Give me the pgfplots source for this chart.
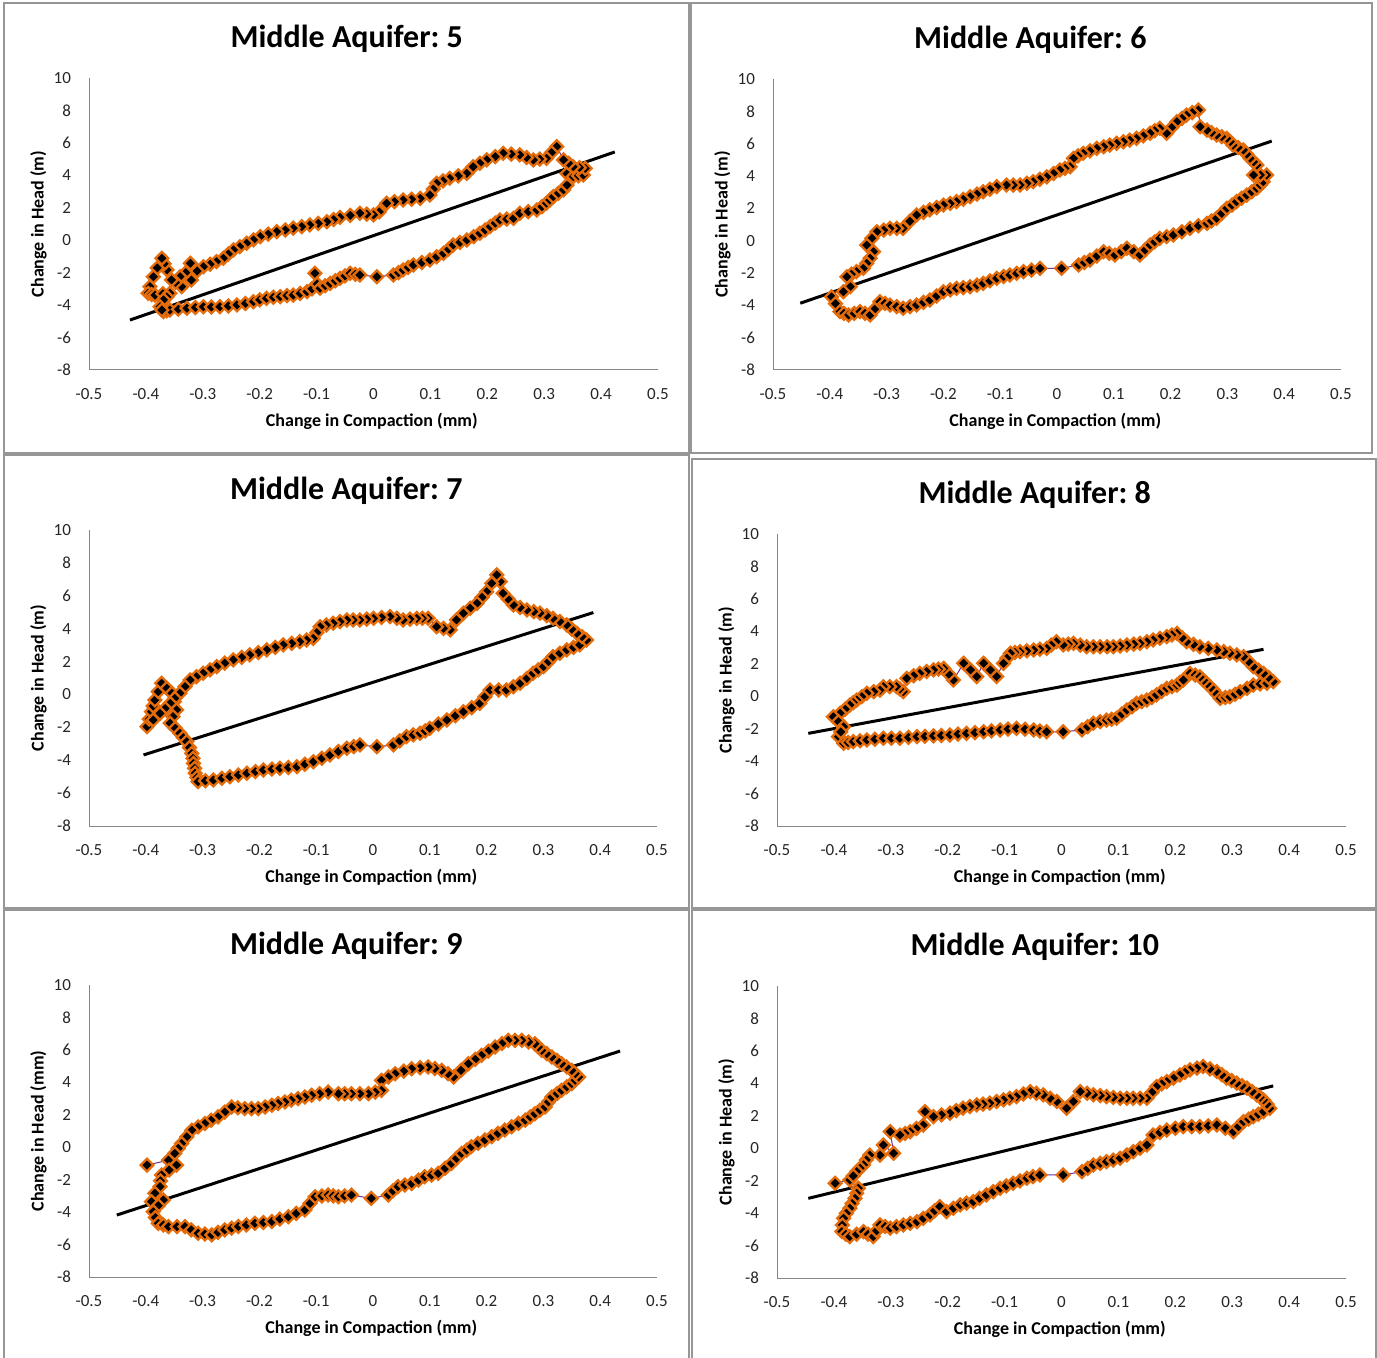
\documentclass[border=0pt]{standalone}
\usepackage{pgfplots}
\pgfplotsset{compat=1.18}
\usepackage{fontspec}
\setmainfont{Carlito}
\frenchspacing
\definecolor{mkorange}{HTML}{E46C0A}
\definecolor{linkpurple}{HTML}{7030A0}
\definecolor{framegray}{HTML}{969696}
\definecolor{axisgray}{HTML}{868686}
\pgfplotsset{
  aquifer/.style={
    scale only axis, width=284.5pt, height=146pt,
    anchor=south west,
    xmin=-0.5, xmax=0.5, ymin=-8, ymax=10,
    axis x line=bottom, axis y line=left,
    axis line style={-, draw=axisgray, line width=0.5pt},
    major tick length=0pt,
    xtick={-0.5,-0.4,-0.3,-0.2,-0.1,0,0.1,0.2,0.3,0.4,0.5},
    xticklabels={-0.5,-0.4,-0.3,-0.2,-0.1,0,0.1,0.2,0.3,0.4,0.5},
    ytick={-8,-6,-4,-2,0,2,4,6,8,10},
    yticklabels={-8,-6,-4,-2,0,2,4,6,8,10},
    tick label style={font=\fontsize{8.5}{10}\selectfont, text=black!85},
    xticklabel style={yshift=-5.5pt},
    yticklabel style={xshift=-5.5pt},
    title style={at={(axis description cs:0.453,1.14)}, anchor=center, yshift=-7pt, font=\fontsize{16}{19}\selectfont\bfseries},
    xlabel style={at={(axis description cs:0.497,-0.175)}, anchor=center, font=\fontsize{9}{11}\selectfont\bfseries},
    ylabel style={at={(axis description cs:-0.089,0.5)}, anchor=center, font=\fontsize{9}{11}\selectfont\bfseries},
    xlabel={Change in Compaction (mm)},
    ylabel={Change in Head (m)},
    clip=false,
  },
  loop/.style={linkpurple, line width=0.5pt, mark=square*, mark size=2.25pt,
    mark options={rotate=45, fill=black, draw=mkorange, line width=1.15pt, solid}},
  trend/.style={black, line width=1.5pt, no marks},
}
\begin{document}
\begin{tikzpicture}[x=0.5pt,y=-0.5pt]
\path[use as bounding box] (0,0) rectangle (1377,1358);
\fill[white] (0,0) rectangle (1377,1358);
% panel frames
\draw[framegray, line width=1pt] (4,3) rectangle (689,453);
\draw[framegray, line width=1pt] (691,3) rectangle (1372,453);
\draw[framegray, line width=1pt] (4,455) rectangle (689,908);
\draw[framegray, line width=1pt] (692,459) rectangle (1376,908);
\draw[framegray, line width=1pt] (4,910) rectangle (689,1362);
\draw[framegray, line width=1pt] (692,910) rectangle (1376,1362);
\coordinate (o1) at (89,370);
\coordinate (o2) at (773,370);
\coordinate (o3) at (89,826);
\coordinate (o4) at (777,826);
\coordinate (o5) at (89,1277);
\coordinate (o6) at (777,1278);

% ---- Middle Aquifer 5
\begin{axis}[aquifer, at={(o1)}, title={Middle Aquifer: 5}]
\addplot[loop] coordinates {
(-0.369,-4.40) (-0.363,-4.35) (-0.358,-4.30) (-0.343,-4.25) (-0.328,-4.20) (-0.313,-4.15)
(-0.299,-4.10) (-0.285,-4.12) (-0.270,-4.10) (-0.255,-4.05) (-0.240,-3.99) (-0.225,-3.90)
(-0.211,-3.79) (-0.200,-3.68) (-0.188,-3.58) (-0.176,-3.52) (-0.164,-3.48) (-0.152,-3.42)
(-0.141,-3.38) (-0.129,-3.28) (-0.117,-3.17) (-0.108,-3.00) (-0.103,-2.04) (-0.099,-2.70)
(-0.094,-2.96) (-0.085,-2.80) (-0.076,-2.66) (-0.067,-2.50) (-0.059,-2.35) (-0.050,-2.20)
(-0.041,-2.04) (-0.032,-2.10) (-0.024,-2.14) (0.006,-2.25) (0.035,-2.14) (0.044,-2.00)
(0.052,-1.83) (0.061,-1.68) (0.070,-1.53) (0.085,-1.38) (0.099,-1.22) (0.111,-1.02)
(0.123,-0.81) (0.132,-0.55) (0.140,-0.29) (0.152,-0.14) (0.164,0.01) (0.176,0.22)
(0.187,0.43) (0.196,0.63) (0.205,0.84) (0.214,1.05) (0.222,1.25) (0.234,1.30) (0.246,1.35)
(0.257,1.66) (0.272,1.76) (0.287,1.86) (0.296,2.07) (0.304,2.28) (0.310,2.48) (0.316,2.69)
(0.325,2.90) (0.334,3.10) (0.340,3.40)
(0.340,4.10) (0.351,3.92) (0.360,3.97) (0.369,4.02) (0.372,4.43) (0.362,4.48) (0.351,4.53)
(0.343,4.74) (0.334,4.95) (0.322,5.77) (0.313,5.40) (0.304,5.05) (0.292,5.00) (0.281,4.95)
(0.269,5.10) (0.257,5.26) (0.242,5.31) (0.228,5.36) (0.214,5.15) (0.199,4.95) (0.187,4.74)
(0.175,4.53) (0.164,4.12) (0.149,3.97) (0.134,3.82) (0.122,3.66) (0.111,3.51) (0.105,3.15)
(0.099,2.79) (0.082,2.58) (0.067,2.53) (0.052,2.48) (0.037,2.38) (0.023,2.28) (0.010,1.75)
(0.000,1.56) (-0.012,1.61) (-0.024,1.66) (-0.041,1.53) (-0.059,1.41) (-0.070,1.28)
(-0.082,1.14) (-0.097,1.04) (-0.112,0.94) (-0.126,0.84) (-0.141,0.74) (-0.155,0.63)
(-0.170,0.53) (-0.185,0.38) (-0.199,0.22) (-0.211,0.02) (-0.223,-0.19) (-0.235,-0.40)
(-0.246,-0.60) (-0.255,-0.85) (-0.264,-1.11) (-0.276,-1.32) (-0.287,-1.48) (-0.299,-1.63)
(-0.310,-1.90) (-0.320,-2.45) (-0.322,-1.42) (-0.330,-2.00) (-0.337,-2.86) (-0.340,-2.25)
(-0.348,-2.60) (-0.355,-2.45) (-0.363,-1.83) (-0.368,-1.45) (-0.372,-1.11) (-0.380,-1.70)
(-0.387,-2.25) (-0.393,-2.86) (-0.396,-3.27) (-0.390,-3.35) (-0.384,-3.38) (-0.370,-3.30)
(-0.358,-3.27) (-0.363,-3.50) (-0.369,-3.68) (-0.375,-4.10) (-0.372,-4.30)
};
\addplot[trend] coordinates {(-0.428,-4.92) (0.424,5.44)};
\end{axis}

% ---- Middle Aquifer 6
\begin{axis}[aquifer, at={(o2)}, width=284pt, height=145.5pt, title={Middle Aquifer: 6}]
\addplot[loop] coordinates {
(-0.397,-3.47) (-0.390,-3.90) (-0.382,-4.39) (-0.375,-4.50) (-0.367,-4.60) (-0.357,-4.50)
(-0.347,-4.39) (-0.338,-4.50) (-0.329,-4.60) (-0.320,-4.20) (-0.312,-3.78) (-0.303,-3.88)
(-0.294,-3.98) (-0.282,-4.08) (-0.271,-4.18) (-0.259,-4.08) (-0.247,-3.98) (-0.235,-3.82)
(-0.224,-3.67) (-0.212,-3.42) (-0.200,-3.16) (-0.188,-3.05) (-0.177,-2.95) (-0.165,-2.90)
(-0.153,-2.85) (-0.141,-2.75) (-0.130,-2.64) (-0.118,-2.48) (-0.106,-2.33) (-0.094,-2.22)
(-0.083,-2.12) (-0.071,-2.02) (-0.059,-1.92) (-0.045,-1.82) (-0.030,-1.71) (0.008,-1.71)
(0.038,-1.51) (0.048,-1.35) (0.058,-1.20) (0.070,-0.95) (0.082,-0.68) (0.092,-0.78)
(0.102,-0.89) (0.113,-0.68) (0.123,-0.47) (0.135,-0.68) (0.146,-0.89) (0.155,-0.58)
(0.164,-0.27) (0.172,-0.07) (0.181,0.14) (0.193,0.25) (0.205,0.35) (0.220,0.55) (0.234,0.76)
(0.249,0.92) (0.264,1.07) (0.272,1.22) (0.281,1.38) (0.290,1.69) (0.299,2.00) (0.308,2.20)
(0.316,2.41) (0.325,2.62) (0.334,2.82) (0.343,3.03) (0.352,3.24) (0.358,3.45) (0.363,3.65)
(0.369,4.06) (0.358,4.06) (0.346,4.06) (0.352,4.68) (0.346,4.88) (0.340,5.09) (0.334,5.35)
(0.328,5.61) (0.319,5.76) (0.310,5.91) (0.305,6.12) (0.299,6.33) (0.290,6.43) (0.281,6.53)
(0.272,6.69) (0.264,6.84) (0.252,7.05) (0.249,8.08) (0.238,7.92) (0.228,7.77) (0.220,7.56)
(0.211,7.36) (0.202,7.00) (0.193,6.64) (0.181,6.95) (0.172,6.80) (0.164,6.64) (0.152,6.48)
(0.140,6.33) (0.128,6.22) (0.117,6.12) (0.105,6.02) (0.093,5.91) (0.082,5.81) (0.070,5.71)
(0.058,5.55) (0.046,5.40) (0.037,5.25) (0.029,5.09) (0.023,4.57) (0.014,4.47) (0.005,4.37)
(-0.006,4.16) (-0.018,3.95) (-0.030,3.80) (-0.042,3.65) (-0.053,3.55) (-0.065,3.44)
(-0.077,3.44) (-0.089,3.44) (-0.106,3.34) (-0.118,3.18) (-0.130,3.03) (-0.141,2.88)
(-0.153,2.72) (-0.165,2.56) (-0.177,2.41) (-0.188,2.30) (-0.200,2.20) (-0.212,2.05)
(-0.224,1.90) (-0.235,1.75) (-0.247,1.59) (-0.259,1.20) (-0.271,0.76) (-0.282,0.76)
(-0.294,0.76) (-0.305,0.65) (-0.317,0.55) (-0.326,0.15) (-0.335,-0.27) (-0.323,-0.68)
(-0.329,-1.09) (-0.335,-1.40) (-0.341,-1.71) (-0.353,-1.92) (-0.362,-2.07) (-0.370,-2.23)
(-0.364,-2.85) (-0.376,-3.16)
};
\addplot[trend] coordinates {(-0.452,-3.87) (0.378,6.16)};
\end{axis}

% ---- Middle Aquifer 7
\begin{axis}[aquifer, at={(o3)}, width=284pt, height=148pt, title={Middle Aquifer: 7}]
\addplot[loop] coordinates {
(-0.398,-1.96) (-0.394,-1.50) (-0.390,-1.05) (-0.387,-0.70) (-0.384,-0.34) (-0.378,0.17)
(-0.372,0.68) (-0.363,0.38) (-0.354,0.07) (-0.350,-0.44) (-0.346,-0.94) (-0.352,-1.35)
(-0.357,-1.75) (-0.348,-2.05) (-0.340,-2.36) (-0.334,-2.62) (-0.328,-2.87) (-0.323,-3.23)
(-0.319,-3.58) (-0.317,-3.89) (-0.316,-4.19) (-0.314,-4.49) (-0.313,-4.79) (-0.310,-5.05)
(-0.308,-5.30) (-0.295,-5.25) (-0.281,-5.20) (-0.266,-5.10) (-0.252,-5.00) (-0.237,-4.90)
(-0.222,-4.79) (-0.207,-4.69) (-0.193,-4.59) (-0.178,-4.54) (-0.164,-4.49) (-0.149,-4.44)
(-0.134,-4.39) (-0.120,-4.24) (-0.105,-4.09) (-0.090,-3.88) (-0.076,-3.68) (-0.061,-3.47)
(-0.046,-3.27) (-0.034,-3.17) (-0.023,-3.07) (0.007,-3.18) (0.036,-3.07) (0.047,-2.82)
(0.059,-2.57) (0.071,-2.46) (0.083,-2.36) (0.092,-2.21) (0.100,-2.06) (0.115,-1.80)
(0.130,-1.55) (0.145,-1.30) (0.159,-1.05) (0.174,-0.80) (0.188,-0.54) (0.197,-0.14)
(0.206,0.27) (0.221,0.27) (0.235,0.27) (0.247,0.47) (0.259,0.68) (0.271,0.98) (0.282,1.29)
(0.291,1.49) (0.300,1.69) (0.309,2.00) (0.317,2.30) (0.329,2.50) (0.341,2.71) (0.353,2.86)
(0.364,3.01) (0.376,3.31) (0.368,3.51) (0.359,3.72) (0.350,3.97) (0.341,4.23) (0.329,4.43)
(0.317,4.63) (0.306,4.79) (0.294,4.94) (0.283,5.04) (0.271,5.14) (0.259,5.29) (0.247,5.44)
(0.238,5.80) (0.229,6.15) (0.224,6.86) (0.218,7.27) (0.209,6.76) (0.200,6.25) (0.192,5.90)
(0.183,5.54) (0.171,5.24) (0.159,4.94) (0.147,4.53) (0.136,3.92) (0.124,4.02) (0.112,4.12)
(0.097,4.63) (0.087,4.63) (0.077,4.63) (0.065,4.58) (0.053,4.53) (0.042,4.63) (0.030,4.73)
(0.015,4.68) (0.001,4.63) (-0.011,4.58) (-0.023,4.53) (-0.035,4.53) (-0.046,4.53)
(-0.058,4.43) (-0.070,4.33) (-0.082,4.22) (-0.093,4.12) (-0.099,3.76) (-0.105,3.41)
(-0.117,3.31) (-0.129,3.21) (-0.143,3.11) (-0.158,3.01) (-0.172,2.86) (-0.187,2.71)
(-0.202,2.55) (-0.217,2.40) (-0.231,2.25) (-0.246,2.10) (-0.261,1.90) (-0.275,1.69)
(-0.287,1.49) (-0.299,1.29) (-0.311,1.08) (-0.322,0.88) (-0.331,0.47) (-0.340,0.07)
(-0.349,-0.24) (-0.357,-0.54) (-0.366,-0.85) (-0.375,-1.15) (-0.387,-1.55)
};
\addplot[trend] coordinates {(-0.404,-3.68) (0.388,4.98)};
\end{axis}

% ---- Middle Aquifer 8
\begin{axis}[aquifer, at={(o4)}, title={Middle Aquifer: 8}]
\addplot[loop] coordinates {
(-0.392,-2.49) (-0.383,-2.90) (-0.375,-2.85) (-0.366,-2.80) (-0.354,-2.75) (-0.342,-2.70)
(-0.328,-2.65) (-0.313,-2.59) (-0.299,-2.59) (-0.284,-2.59) (-0.269,-2.54) (-0.254,-2.49)
(-0.240,-2.47) (-0.225,-2.45) (-0.211,-2.42) (-0.196,-2.39) (-0.182,-2.34) (-0.167,-2.29)
(-0.152,-2.24) (-0.137,-2.19) (-0.123,-2.14) (-0.108,-2.08) (-0.094,-2.03) (-0.079,-1.98)
(-0.064,-2.03) (-0.049,-2.08) (-0.038,-2.14) (-0.026,-2.19) (0.003,-2.19) (0.036,-2.08)
(0.046,-1.88) (0.056,-1.67) (0.068,-1.57) (0.079,-1.47) (0.088,-1.42) (0.097,-1.36)
(0.106,-1.10) (0.115,-0.85) (0.124,-0.65) (0.132,-0.44) (0.141,-0.34) (0.150,-0.24)
(0.159,-0.08) (0.167,0.08) (0.176,0.29) (0.185,0.49) (0.194,0.59) (0.203,0.69) (0.208,0.85)
(0.214,1.00) (0.226,1.41) (0.235,1.30) (0.243,1.20) (0.249,1.00) (0.255,0.80) (0.261,0.59)
(0.267,0.38) (0.273,0.12) (0.279,-0.13) (0.288,-0.08) (0.296,-0.03) (0.305,0.12) (0.314,0.28)
(0.326,0.49) (0.337,0.69) (0.349,0.75) (0.361,0.80) (0.372,0.90) (0.364,1.15) (0.355,1.41)
(0.346,1.62) (0.337,1.82) (0.329,2.13) (0.320,2.44) (0.308,2.55) (0.296,2.65) (0.285,2.75)
(0.273,2.85) (0.258,2.95) (0.243,3.05) (0.232,3.20) (0.220,3.36) (0.212,3.61) (0.203,3.87)
(0.194,3.77) (0.185,3.67) (0.173,3.57) (0.161,3.47) (0.150,3.36) (0.138,3.26) (0.127,3.21)
(0.115,3.16) (0.103,3.10) (0.091,3.05) (0.080,3.05) (0.068,3.05) (0.056,3.05) (0.044,3.05)
(0.033,3.15) (0.021,3.26) (0.012,3.21) (0.003,3.16) (-0.009,3.36) (-0.018,3.15)
(-0.026,2.95) (-0.038,2.90) (-0.049,2.85) (-0.061,2.80) (-0.073,2.75) (-0.082,2.70)
(-0.090,2.65) (-0.096,2.34) (-0.102,2.03) (-0.114,1.21) (-0.125,1.62) (-0.137,2.03)
(-0.149,1.21) (-0.160,1.62) (-0.172,2.03) (-0.190,1.00) (-0.198,1.36) (-0.207,1.72)
(-0.216,1.67) (-0.225,1.62) (-0.237,1.52) (-0.249,1.41) (-0.260,1.26) (-0.272,1.10)
(-0.278,0.28) (-0.284,0.45) (-0.290,0.59) (-0.302,0.59) (-0.313,0.59) (-0.319,0.38)
(-0.330,0.28) (-0.342,0.18) (-0.351,-0.03) (-0.360,-0.24) (-0.366,-0.39) (-0.372,-0.54)
(-0.380,-0.80) (-0.389,-1.05) (-0.401,-1.26) (-0.392,-1.57) (-0.383,-1.88) (-0.388,-2.20)
};
\addplot[trend] coordinates {(-0.445,-2.29) (0.355,2.89)};
\end{axis}

% ---- Middle Aquifer 9
\begin{axis}[aquifer, at={(o5)}, width=284pt, title={Middle Aquifer: 9}, ylabel={Change in Head (mm)}]
\addplot[loop] coordinates {
(-0.398,-1.10) (-0.360,-0.80) (-0.346,-1.10) (-0.359,-1.40) (-0.372,-1.71) (-0.374,-2.07)
(-0.375,-2.43) (-0.384,-2.84) (-0.390,-3.35) (-0.369,-3.25) (-0.378,-3.60) (-0.387,-3.97)
(-0.383,-4.33) (-0.378,-4.69) (-0.369,-4.79) (-0.360,-4.89) (-0.345,-4.89) (-0.331,-4.89)
(-0.320,-5.10) (-0.308,-5.30) (-0.296,-5.35) (-0.284,-5.40) (-0.273,-5.25) (-0.261,-5.09)
(-0.249,-4.99) (-0.237,-4.89) (-0.223,-4.79) (-0.208,-4.69) (-0.193,-4.64) (-0.178,-4.58)
(-0.164,-4.43) (-0.149,-4.28) (-0.135,-4.08) (-0.120,-3.87) (-0.111,-3.46) (-0.102,-3.05)
(-0.090,-3.00) (-0.079,-2.95) (-0.070,-3.00) (-0.061,-3.05) (-0.050,-3.00) (-0.038,-2.95)
(-0.003,-3.15) (0.027,-2.95) (0.035,-2.69) (0.044,-2.43) (0.056,-2.33) (0.068,-2.23)
(0.080,-2.03) (0.091,-1.82) (0.103,-1.72) (0.115,-1.61) (0.127,-1.30) (0.138,-1.00)
(0.147,-0.69) (0.156,-0.38) (0.165,-0.18) (0.173,0.03) (0.185,0.24) (0.197,0.44) (0.209,0.65)
(0.220,0.85) (0.232,1.06) (0.244,1.26) (0.256,1.47) (0.268,1.67) (0.277,1.87) (0.285,2.07)
(0.294,2.28) (0.303,2.48) (0.309,2.79) (0.315,3.10) (0.324,3.31) (0.332,3.51) (0.341,3.72)
(0.350,3.92) (0.356,4.13) (0.362,4.33) (0.356,4.54) (0.350,4.74) (0.341,4.95) (0.332,5.15)
(0.324,5.36) (0.315,5.56) (0.306,5.77) (0.297,5.97) (0.291,6.18) (0.285,6.38) (0.274,6.49)
(0.262,6.59) (0.250,6.59) (0.238,6.59) (0.227,6.39) (0.215,6.18) (0.203,5.92) (0.191,5.66)
(0.180,5.41) (0.168,5.15) (0.155,4.74) (0.142,4.33) (0.132,4.54) (0.121,4.74) (0.109,4.85)
(0.097,4.95) (0.083,4.90) (0.068,4.84) (0.054,4.69) (0.039,4.53) (0.027,4.33) (0.015,4.12)
(0.015,3.51) (0.004,3.40) (-0.008,3.30) (-0.023,3.30) (-0.038,3.30) (-0.050,3.30)
(-0.061,3.30) (-0.079,3.41) (-0.094,3.30) (-0.108,3.20) (-0.120,3.10) (-0.132,3.00)
(-0.144,2.90) (-0.155,2.79) (-0.167,2.69) (-0.178,2.59) (-0.190,2.48) (-0.202,2.38)
(-0.214,2.38) (-0.226,2.38) (-0.238,2.43) (-0.249,2.48) (-0.261,2.17) (-0.273,1.87)
(-0.285,1.66) (-0.296,1.46) (-0.308,1.25) (-0.319,1.05) (-0.328,0.64) (-0.337,0.23)
(-0.343,-0.07) (-0.349,-0.38)
};
\addplot[trend] coordinates {(-0.451,-4.18) (0.435,5.93)};
\end{axis}

% ---- Middle Aquifer 10
\begin{axis}[aquifer, at={(o6)}, title={Middle Aquifer: 10}]
\addplot[loop] coordinates {
(-0.398,-2.16) (-0.372,-1.96) (-0.357,-2.47) (-0.360,-2.78) (-0.363,-3.09) (-0.368,-3.40)
(-0.372,-3.70) (-0.378,-4.01) (-0.383,-4.32) (-0.385,-4.73) (-0.386,-5.14) (-0.379,-5.30)
(-0.372,-5.45) (-0.360,-5.30) (-0.348,-5.14) (-0.340,-5.30) (-0.331,-5.45) (-0.325,-5.09)
(-0.319,-4.73) (-0.310,-4.83) (-0.301,-4.93) (-0.290,-4.83) (-0.278,-4.73) (-0.266,-4.63)
(-0.254,-4.52) (-0.243,-4.32) (-0.231,-4.11) (-0.223,-3.85) (-0.214,-3.60) (-0.202,-3.91)
(-0.190,-3.70) (-0.178,-3.49) (-0.167,-3.39) (-0.155,-3.29) (-0.144,-3.09) (-0.132,-2.88)
(-0.120,-2.68) (-0.108,-2.47) (-0.097,-2.32) (-0.085,-2.16) (-0.073,-2.01) (-0.061,-1.85)
(-0.050,-1.75) (-0.038,-1.65) (0.003,-1.65) (0.036,-1.44) (0.046,-1.24) (0.056,-1.03)
(0.068,-0.93) (0.079,-0.83) (0.091,-0.73) (0.103,-0.62) (0.115,-0.42) (0.126,-0.21)
(0.138,0.00) (0.150,0.20) (0.161,0.81) (0.173,0.97) (0.185,1.12) (0.200,1.23) (0.214,1.33)
(0.229,1.33) (0.243,1.33) (0.258,1.38) (0.273,1.43) (0.288,1.23) (0.302,1.02) (0.311,1.33)
(0.320,1.64) (0.329,1.80) (0.337,1.95) (0.346,2.10) (0.355,2.26) (0.366,2.46) (0.361,2.72)
(0.355,2.98) (0.349,3.14) (0.343,3.29) (0.335,3.50) (0.326,3.70) (0.317,3.86) (0.308,4.01)
(0.299,4.17) (0.290,4.32) (0.282,4.53) (0.273,4.73) (0.261,4.89) (0.249,5.04) (0.238,4.94)
(0.226,4.83) (0.217,4.68) (0.208,4.52) (0.197,4.32) (0.185,4.11) (0.176,3.96) (0.167,3.80)
(0.159,3.44) (0.150,3.08) (0.138,3.08) (0.126,3.08) (0.115,3.08) (0.103,3.08) (0.091,3.13)
(0.079,3.18) (0.068,3.24) (0.056,3.29) (0.045,3.39) (0.033,3.49) (0.021,2.88) (0.009,2.47)
(-0.008,2.88) (-0.020,3.08) (-0.032,3.29) (-0.044,3.39) (-0.055,3.49) (-0.067,3.34)
(-0.079,3.18) (-0.091,3.08) (-0.102,2.98) (-0.114,2.88) (-0.126,2.78) (-0.138,2.72)
(-0.149,2.67) (-0.161,2.57) (-0.173,2.47) (-0.185,2.32) (-0.196,2.16) (-0.211,2.06)
(-0.225,1.95) (-0.240,2.26) (-0.243,1.43) (-0.255,1.22) (-0.266,1.02) (-0.275,0.91)
(-0.284,0.81) (-0.301,1.02) (-0.295,-0.31) (-0.313,0.20) (-0.319,-0.42) (-0.337,-0.42)
(-0.343,-0.72) (-0.348,-1.03) (-0.354,-1.23) (-0.360,-1.44) (-0.366,-1.70)
};
\addplot[trend] coordinates {(-0.445,-3.09) (0.372,3.84)};
\end{axis}
\end{tikzpicture}
\end{document}
